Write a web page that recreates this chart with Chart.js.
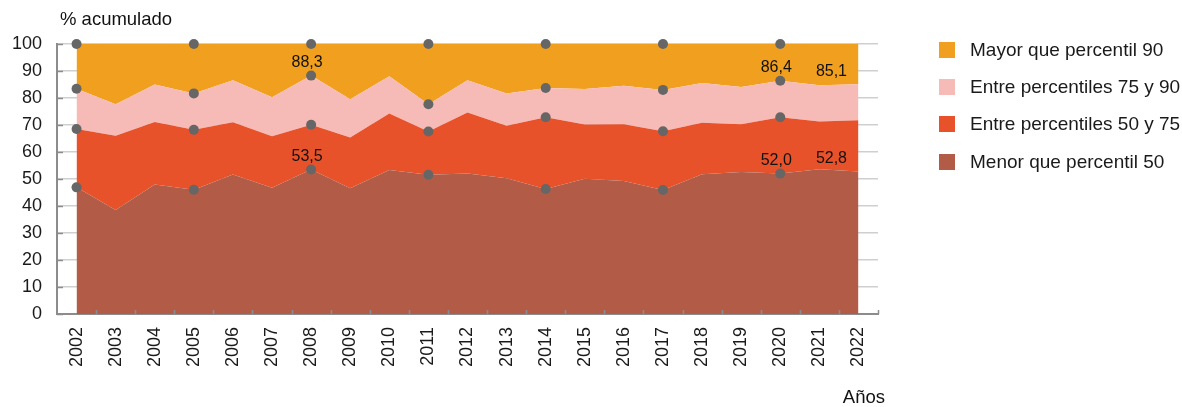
<!DOCTYPE html>
<html lang="es">
<head>
<meta charset="utf-8">
<title>% acumulado por percentiles</title>
<script src="https://cdn.jsdelivr.net/npm/chart.js@4.4.1/dist/chart.umd.min.js"></script>
<style>
  html, body { margin: 0; padding: 0; background: #fff; }
  #wrap { position: relative; width: 1182px; height: 407px; }
  #legend {
    position: absolute; left: 939px; top: 31px;
    font-family: "Liberation Sans", Arial, sans-serif; font-size: 19px; color: #1a1a1a;
  }
  .item { display: flex; align-items: center; height: 37.4px; white-space: nowrap; }
  .box { width: 16px; height: 16px; margin-right: 15px; }
</style>
</head>
<body>
<div id="wrap">
  <canvas id="grafico"></canvas>
  <div id="legend"></div>
</div>
<script>
const years = ['2002', '2003', '2004', '2005', '2006', '2007', '2008', '2009', '2010', '2011', '2012',
  '2013', '2014', '2015', '2016', '2017', '2018', '2019', '2020', '2021', '2022'];

// % acumulado: limite superior de cada tramo
const menorP50 = [46.9, 38.5, 48.0, 46.0, 51.7, 46.8, 53.5, 46.6, 53.3, 51.6, 52.0,
  50.3, 46.3, 50.1, 49.3, 45.9, 51.8, 52.6, 52.0, 53.6, 52.8];
const hastaP75 = [68.5, 66.0, 71.1, 68.2, 71.0, 65.8, 70.1, 65.4, 74.3, 67.6, 74.6,
  69.7, 72.9, 70.2, 70.3, 67.7, 70.8, 70.3, 72.9, 71.3, 71.8];
const hastaP90 = [83.4, 77.7, 85.0, 81.7, 86.6, 80.3, 88.3, 79.5, 88.1, 77.7, 86.6,
  81.7, 83.7, 83.3, 84.5, 83.0, 85.6, 84.1, 86.4, 84.7, 85.1];
const total = [100, 100, 100, 100, 100, 100, 100, 100, 100, 100, 100,
  100, 100, 100, 100, 100, 100, 100, 100, 100, 100];

const yTicks = [0, 10, 20, 30, 40, 50, 60, 70, 80, 90, 100];
const marcados = ['2002', '2005', '2008', '2011', '2014', '2017', '2020'];

// etiquetas de valor: serie (indice del dataset) y año
const etiquetas = [
  {serie: 2, anio: '2008'}, {serie: 0, anio: '2008'},
  {serie: 2, anio: '2020'}, {serie: 0, anio: '2020'},
  {serie: 2, anio: '2022'}, {serie: 0, anio: '2022'}
];

const nombres = ['Menor que percentil 50', 'Entre percentiles 50 y 75', 'Entre percentiles 75 y 90', 'Mayor que percentil 90'];
const colores = ['#b25c48', '#e8522a', '#f6bbb7', '#f0a01e'];
const series = [menorP50, hastaP75, hastaP90, total];

const FONT = '"Liberation Sans", Arial, sans-serif';

/* leyenda */
const legend = document.getElementById('legend');
for (let i = series.length - 1; i >= 0; i--) {
  legend.innerHTML += '<div class="item"><div class="box" style="background:' + colores[i] + '"></div>' + nombres[i] + '</div>';
}

/* marcas, etiquetas y textos */
const extras = {
  id: 'extras',
  afterDatasetsDraw(chart) {
    const {ctx, chartArea, scales: {x, y}} = chart;
    ctx.save();
    ctx.strokeStyle = '#8c8c8c';
    ctx.lineWidth = 1.5;
    for (let i = 1; i <= years.length; i++) {
      const px = Math.round(x.getPixelForValue(i - 0.5)) + 0.5;
      ctx.beginPath();
      ctx.moveTo(px, chartArea.bottom);
      ctx.lineTo(px, chartArea.bottom - 4);
      ctx.stroke();
    }
    yTicks.forEach(v => {
      const py = Math.round(y.getPixelForValue(v)) + 0.5;
      ctx.beginPath();
      ctx.moveTo(chartArea.left, py);
      ctx.lineTo(chartArea.left + 6, py);
      ctx.stroke();
    });

    ctx.fillStyle = '#111';
    ctx.font = '16px ' + FONT;
    ctx.textAlign = 'center';
    ctx.textBaseline = 'middle';
    etiquetas.forEach(e => {
      const idx = years.indexOf(e.anio);
      const val = series[e.serie][idx];
      let px = x.getPixelForValue(idx) - 4;
      if (idx === years.length - 1) px -= 23;
      const py = y.getPixelForValue(val) - 13;
      ctx.fillText(val.toFixed(1).replace('.', ','), px, py);
    });

    ctx.font = '18.5px ' + FONT;
    ctx.textAlign = 'left';
    ctx.fillText('% acumulado', chartArea.left + 3, 20);
    ctx.textAlign = 'right';
    ctx.fillText('Años', chartArea.right + 7, 398);
    ctx.restore();
  }
};

const datasets = series.map((d, i) => ({
  label: nombres[i],
  data: d,
  backgroundColor: colores[i],
  borderColor: 'rgba(0,0,0,0)',
  borderWidth: 0,
  fill: i === 0 ? 'origin' : '-1',
  tension: 0,
  clip: false,
  pointRadius: c => marcados.includes(years[c.dataIndex]) ? 5 : 0,
  pointBackgroundColor: '#666666',
  pointBorderWidth: 0
}));

new Chart(document.getElementById('grafico'), {
  type: 'line',
  data: { labels: years, datasets: datasets },
  options: {
    responsive: true,
    maintainAspectRatio: false,
    animation: false,
    layout: { padding: { top: 44, right: 304, left: 0, bottom: 0 } },
    plugins: {
      legend: { display: false },
      tooltip: { enabled: false },
      filler: { drawTime: 'beforeDatasetsDraw' }
    },
    scales: {
      x: {
        offset: true,
        grid: { display: true, drawOnChartArea: false, drawTicks: false },
        border: { display: true, color: '#8c8c8c', width: 2 },
        ticks: {
          autoSkip: false, maxRotation: 90, minRotation: 90, padding: 13,
          color: '#1a1a1a', font: { family: FONT, size: 18 }
        },
        afterFit: s => { s.height = 93; }
      },
      y: {
        min: 0, max: 100,
        afterBuildTicks: s => { s.ticks = yTicks.map(v => ({value: v})); },
        grid: { color: '#cfcfcf', lineWidth: 1.5, drawTicks: false },
        border: { display: true, color: '#8c8c8c', width: 2 },
        ticks: { padding: 15, color: '#1a1a1a', font: { family: FONT, size: 18 } },
        afterFit: s => { s.width = 57; }
      }
    }
  },
  plugins: [extras]
});
</script>
</body>
</html>
